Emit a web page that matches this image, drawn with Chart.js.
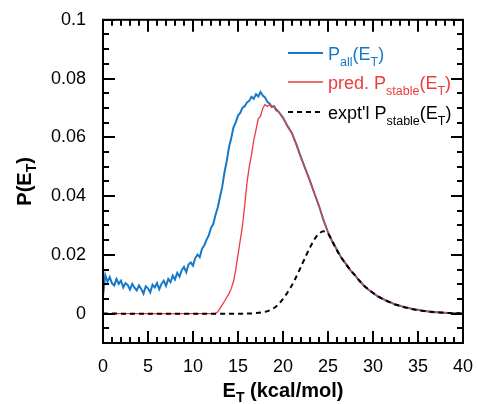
<!DOCTYPE html>
<html><head><meta charset="utf-8">
<script src="https://cdn.jsdelivr.net/npm/chart.js@4"></script>
<style>html,body{margin:0;padding:0;background:#fff}</style>
</head><body>
<canvas id="c" width="478" height="404"></canvas>
<script>
// ---- data ----
const xTickVals = [0,5,10,15,20,25,30,35,40];
const xTickLabels = ['0','5','10','15','20','25','30','35','40'];
const yTickVals = [0,0.02,0.04,0.06,0.08,0.1];
const yTickLabels = ['0','0.02','0.04','0.06','0.08','0.1'];

const blueE = [0,0.25,0.5,0.75,1,1.25,1.5,1.75,2,2.25,2.5,2.75,3,3.25,3.5,3.75,4,4.25,4.5,4.75,5,5.25,5.5,5.75,6,6.25,6.5,6.75,7,7.25,7.5,7.75,8,8.25,8.5,8.75,9,9.25,9.5,9.75,10,10.25,10.5,10.75,11,11.25,11.5,11.75,12,12.25,12.5,12.75,13,13.25,13.5,13.75,14,14.25,14.5,14.75,15,15.25,15.5,15.75,16,16.25,16.5,16.75,17,17.25,17.5,17.75,18,18.25,18.5,18.75,19,19.25,19.5,20,20.5,21,21.5,22,22.5,23,23.5,24,24.5,25,25.5,26,26.5,27,27.5,28,28.5,29,29.5,30,30.5,31,31.5,32,32.5,33,33.5,34,34.5,35,35.5,36,36.5,37,37.5,38,38.5,39,39.5,40];
const blueP = [0.0058,0.0131,0.0108,0.0124,0.0103,0.0096,0.0118,0.0101,0.0112,0.0089,0.0104,0.0097,0.0082,0.0101,0.0088,0.0079,0.0096,0.0084,0.0068,0.0093,0.0086,0.0072,0.0098,0.0089,0.0104,0.0083,0.0101,0.0112,0.0094,0.0118,0.0107,0.0129,0.0116,0.0139,0.0126,0.0148,0.0159,0.0141,0.0167,0.0174,0.0163,0.0189,0.0201,0.0192,0.0221,0.0232,0.0251,0.0266,0.0292,0.0305,0.0336,0.0361,0.0397,0.0432,0.0481,0.0519,0.0566,0.0598,0.0634,0.0651,0.0674,0.0683,0.0701,0.0706,0.0719,0.0724,0.0738,0.0731,0.0747,0.0739,0.0754,0.0742,0.0736,0.0721,0.0715,0.0704,0.0706,0.0692,0.0687,
0.0667,0.0638,0.0614,0.0575,0.0532,0.0492,0.0452,0.0408,0.0367,0.0318,0.0277,0.0244,0.0217,0.0189,0.0169,0.0147,0.0131,0.0111,0.0096,0.0081,0.0071,0.0059,0.0052,0.0043,0.0038,0.0030,0.0027,0.0021,0.0019,0.0014,0.0013,0.0009,0.0008,0.0005,0.0005,0.0003,0.0003,0.0002,0.0001,0.0001,0];

const redE = [0,12.5,12.75,13,13.25,13.5,13.75,14,14.25,14.5,14.75,15,15.25,15.5,15.75,16,16.25,16.5,16.75,17,17.25,17.5,17.75,18,18.25,18.5,18.75,19,19.5,20,20.5,21,21.5,22,22.5,23,23.5,24,24.5,25,25.5,26,26.5,27,27.5,28,28.5,29,29.5,30,30.5,31,31.5,32,32.5,33,33.5,34,34.5,35,35.5,36,36.5,37,37.5,38,38.5,39,39.5,40];
const redP = [0,0,0.0006,0.0018,0.003,0.0042,0.0055,0.0068,0.0085,0.011,0.015,0.020,0.025,0.030,0.037,0.0445,0.050,0.054,0.059,0.0625,0.0664,0.0671,0.0698,0.0712,0.0705,0.0711,0.0702,0.0706,0.0688,
0.0665,0.0640,0.0612,0.0572,0.053,0.049,0.045,0.041,0.0365,0.032,0.0275,0.0245,0.0215,0.019,0.0168,0.0148,0.013,0.0112,0.0095,0.0082,0.007,0.006,0.0051,0.0044,0.0037,0.0031,0.0026,0.0022,0.0018,0.0015,0.0012,0.001,0.0008,0.0006,0.0005,0.0004,0.0003,0.0002,0.0001,0.0001,0];

const blackE = [0,16,17,18,18.5,19,19.5,20,20.5,21,21.5,22,22.5,23,23.5,24,24.5,25,25.5,26,26.5,27,27.5,28,28.5,29,29.5,30,30.5,31,31.5,32,32.5,33,33.5,34,34.5,35,35.5,36,36.5,37,37.5,38,38.5,39,39.5,40];
const blackP = [0,0,0.0002,0.0006,0.0011,0.0019,0.0032,0.005,0.0072,0.0097,0.0127,0.016,0.0193,0.0225,0.0253,0.0272,0.028,0.0272,0.0245,
0.0215,0.019,0.0168,0.0148,0.013,0.0112,0.0095,0.0082,0.007,0.006,0.0051,0.0044,0.0037,0.0031,0.0026,0.0022,0.0018,0.0015,0.0012,0.001,0.0008,0.0006,0.0005,0.0004,0.0003,0.0002,0.0001,0.0001,0];

const BLUE = '#1679c8';
const RED = '#ef3b3c';
const FONT = "'Liberation Sans', Arial, Helvetica, sans-serif";

const pts = (xs, ys) => xs.map((x, i) => ({x: x, y: ys[i]}));

function richText(ctx, segs, x, y, align, mainFont, subFont, subDy) {
  let w = 0;
  for (const s of segs) { ctx.font = s.sub ? subFont : mainFont; w += ctx.measureText(s.t).width; }
  let cx = align === 'center' ? x - w / 2 : x;
  for (const s of segs) {
    ctx.font = s.sub ? subFont : mainFont;
    ctx.fillText(s.t, cx, y + (s.sub ? subDy : 0));
    cx += ctx.measureText(s.t).width;
  }
}

const framePlugin = {
  id: 'frame',
  afterDatasetsDraw(chart) {
    const {ctx, chartArea: a, scales: {x, y}} = chart;
    ctx.save();
    ctx.strokeStyle = '#000';
    ctx.lineWidth = 2;
    ctx.lineCap = 'butt';
    ctx.beginPath();
    for (let v = 0; v <= 40; v += 1) {
      const px = Math.round(x.getPixelForValue(v));
      const len = (v % 5 === 0) ? 12 : 6;
      ctx.moveTo(px, a.bottom); ctx.lineTo(px, a.bottom - len);
      ctx.moveTo(px, a.top); ctx.lineTo(px, a.top + len);
    }
    for (let k = -2; k <= 20; k++) {
      const v = k * 0.005;
      const py = Math.round(y.getPixelForValue(v));
      const len = (k % 4 === 0) ? 12 : 6;
      ctx.moveTo(a.left, py); ctx.lineTo(a.left + len, py);
      ctx.moveTo(a.right, py); ctx.lineTo(a.right - len, py);
    }
    ctx.stroke();
    ctx.strokeRect(a.left, a.top, a.right - a.left, a.bottom - a.top);
    ctx.restore();
  },
  afterDraw(chart) {
    const {ctx, chartArea: a} = chart;
    ctx.save();
    ctx.textBaseline = 'alphabetic';
    ctx.fillStyle = '#000';
    richText(ctx, [{t:'E'},{t:'T',sub:true},{t:' (kcal/mol)'}], (a.left + a.right) / 2, 397,
      'center', 'bold 20px ' + FONT, 'bold 14px ' + FONT, 5);
    ctx.save();
    ctx.translate(31, (a.top + a.bottom) / 2);
    ctx.rotate(-Math.PI / 2);
    richText(ctx, [{t:'P(E'},{t:'T',sub:true},{t:')'}], 0, 0,
      'center', 'bold 20px ' + FONT, 'bold 14px ' + FONT, 5);
    ctx.restore();
    const items = [
      {color: BLUE, width: 2, dash: [], y: 53, segs: [{t:'P'},{t:'all',sub:true},{t:'(E'},{t:'T',sub:true},{t:')'}]},
      {color: RED, width: 1.3, dash: [], y: 82, segs: [{t:'pred. P'},{t:'stable',sub:true},{t:'(E'},{t:'T',sub:true},{t:')'}]},
      {color: '#000', width: 2, dash: [5,4], y: 112, segs: [{t:'expt\'l P'},{t:'stable',sub:true},{t:'(E'},{t:'T',sub:true},{t:')'}]}
    ];
    for (const it of items) {
      ctx.strokeStyle = it.color; ctx.lineWidth = it.width; ctx.setLineDash(it.dash);
      ctx.beginPath(); ctx.moveTo(288, it.y); ctx.lineTo(323, it.y); ctx.stroke();
      ctx.setLineDash([]);
      ctx.fillStyle = it.color;
      richText(ctx, it.segs, 328, it.y + 6.5, 'left', '18px ' + FONT, '12.5px ' + FONT, 6);
    }
    ctx.restore();
  }
};

new Chart(document.getElementById('c'), {
  type: 'line',
  data: {
    datasets: [
      {label: "expt'l Pstable(ET)", data: pts(blackE, blackP), borderColor: '#000', borderWidth: 2, borderDash: [5,4], pointRadius: 0, tension: 0.3, fill: false},
      {label: 'pred. Pstable(ET)', data: pts(redE, redP), borderColor: RED, borderWidth: 1.3, pointRadius: 0, tension: 0, fill: false},
      {label: 'Pall(ET)', data: pts(blueE, blueP), borderColor: BLUE, borderWidth: 2, pointRadius: 0, tension: 0, fill: false}
    ]
  },
  options: {
    responsive: false,
    animation: false,
    devicePixelRatio: 1,
    layout: {padding: {top: 19, right: 11.5, left: 0, bottom: 0}},
    plugins: {legend: {display: false}, tooltip: {enabled: false}},
    scales: {
      x: {
        type: 'linear', min: 0, max: 40,
        afterBuildTicks: s => { s.ticks = xTickVals.map(v => ({value: v})); },
        afterFit: s => { s.height = 61; },
        grid: {display: false}, border: {display: false},
        ticks: {color: '#000', font: {family: FONT, size: 18}, padding: 5, maxRotation: 0, autoSkip: false,
          callback: (v, i) => xTickLabels[i]}
      },
      y: {
        type: 'linear', min: -0.01, max: 0.1,
        afterBuildTicks: s => { s.ticks = yTickVals.map(v => ({value: v})); },
        afterFit: s => { s.width = 103; },
        grid: {display: false}, border: {display: false},
        ticks: {color: '#000', font: {family: FONT, size: 18}, padding: 9, autoSkip: false,
          callback: (v, i) => yTickLabels[i]}
      }
    }
  },
  plugins: [framePlugin]
});
</script>
</body></html>
